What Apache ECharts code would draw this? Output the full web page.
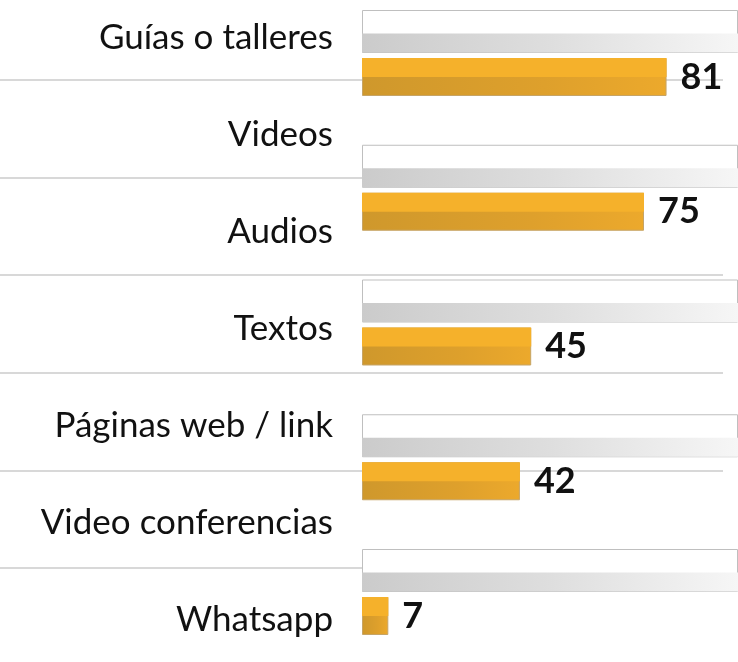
<!DOCTYPE html>
<html>
<head>
<meta charset="utf-8">
<script src="https://cdn.jsdelivr.net/npm/echarts@6/dist/echarts.min.js"></script>
<style>html,body{margin:0;padding:0;background:#fff}#c{width:738px;height:662px}</style>
</head>
<body>
<div id="c"></div>
<script>
const categories = ['Guías o talleres', 'Videos', 'Audios', 'Textos', 'Páginas web / link', 'Video conferencias', 'Whatsapp'];
const barRows = ['r1', 'r2', 'r3', 'r4', 'r5'];
const values = [81, 75, 45, 42, 7];
const fullScale = [100, 100, 100, 100, 100];
const separatorTicks = [0, 1, 2, 3, 4, 5];

// bar grids: [top(center of first row), barWidth]
const barGridDefs = [
  { top: 31.5 },   // 0 grey box
  { top: 43 },     // 1 grey shade strip
  { top: 77 },     // 2 orange full
  { top: 67.5 }    // 3 orange highlight (top half)
];
const rowSpan = 4 * 134.75;

const grids = barGridDefs.map(d => ({ left: 362, right: -4, top: d.top, height: rowSpan }));
grids.push({ left: 341, width: 1, top: 38, height: 582 });   // 4 label axis
grids.push({ left: 0, right: 15, top: 80, height: 488 });    // 5 separator lines

const xAxes = grids.map((g, i) => ({
  gridIndex: i, type: 'value', min: 0, max: i < 4 ? 100 : 1, show: false
}));
const yAxes = barGridDefs.map((d, i) => ({
  gridIndex: i, type: 'category', data: barRows, inverse: true, boundaryGap: false, show: false
}));
yAxes.push({
  gridIndex: 4, type: 'category', data: categories, inverse: true, boundaryGap: false,
  axisLine: { show: false }, axisTick: { show: false }, splitLine: { show: false },
  axisLabel: { margin: 8, color: '#111111', fontFamily: 'Lato', fontSize: 35, align: 'right' }
});
yAxes.push({
  gridIndex: 5, type: 'value', min: separatorTicks[0], max: separatorTicks[separatorTicks.length - 1],
  interval: 1, inverse: true,
  axisLine: { show: false }, axisTick: { show: false }, axisLabel: { show: false },
  splitLine: { show: true, lineStyle: { color: '#d8d8d8', width: 2 } }
});

const chart = echarts.init(document.getElementById('c'));
chart.setOption({
  animation: false,
  backgroundColor: '#ffffff',
  grid: grids,
  xAxis: xAxes,
  yAxis: yAxes,
  series: [
    {
      type: 'bar', xAxisIndex: 0, yAxisIndex: 0, data: fullScale, barWidth: 43, silent: true,
      itemStyle: { color: '#ffffff', borderColor: '#bfbfbf', borderWidth: 1 }, z: 2
    },
    {
      type: 'bar', xAxisIndex: 1, yAxisIndex: 1, data: fullScale, barWidth: 19, silent: true,
      itemStyle: {
        color: new echarts.graphic.LinearGradient(0, 0, 1, 0, [
          { offset: 0, color: '#cbcbcb' },
          { offset: 0.5, color: '#dedede' },
          { offset: 1, color: '#f6f6f6' }
        ])
      }, z: 3
    },
    {
      type: 'bar', xAxisIndex: 2, yAxisIndex: 2, data: values, barWidth: 38,
      itemStyle: {
        borderColor: '#c6a466', borderWidth: 1,
        color: new echarts.graphic.LinearGradient(0, 0, 1, 0, [
          { offset: 0, color: '#cf982c' },
          { offset: 0.6, color: '#dea02c' },
          { offset: 1, color: '#eca92c' }
        ])
      },
      label: {
        show: true, position: 'right', distance: 14,
        color: '#111111', fontFamily: 'Lato', fontWeight: 'bold', fontSize: 36
      },
      z: 4
    },
    {
      type: 'bar', xAxisIndex: 3, yAxisIndex: 3, data: values, barWidth: 19, silent: true,
      itemStyle: { color: '#f5b12b' }, z: 5
    }
  ]
});
</script>
</body>
</html>
